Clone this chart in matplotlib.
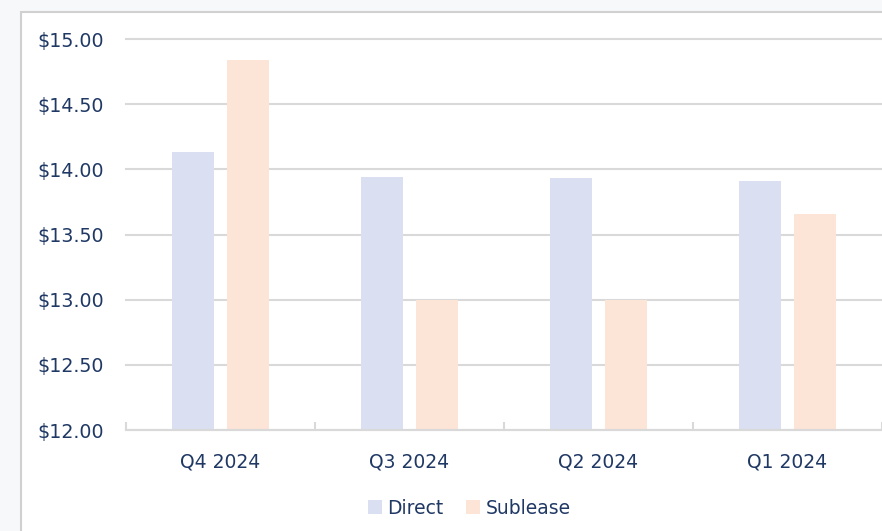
import matplotlib.pyplot as plt
import matplotlib.patches as mpatches
import numpy as np

quarters = ['Q4 2024', 'Q3 2024', 'Q2 2024', 'Q1 2024']
direct = [14.13, 13.94, 13.93, 13.91]
sublease = [14.84, 13.00, 13.00, 13.66]

navy = '#1f3864'
grid_c = '#d9d9d9'
c_direct = '#dae0f1'
c_sub = '#fce4d6'

fig = plt.figure(figsize=(8.82, 5.31), dpi=100)
fig.patch.set_facecolor('#f7f8fa')

# white panel with grey border, cut off at right and bottom
panel = mpatches.Rectangle((21 / 882, -0.05), 1.2, 1 - 12 / 531 + 0.05,
                           transform=fig.transFigure, facecolor='white',
                           edgecolor='#d0d0d0', linewidth=1.5, zorder=-10)
fig.patches.append(panel)

ax = fig.add_axes([126 / 882, 1 - 430 / 531, 1 - 126 / 882, (430 - 39) / 531])
ax.set_facecolor('none')
ax.set_zorder(5)

x = np.arange(len(quarters))
w = 0.222
off = 0.143
ax.bar(x - off, np.array(direct) - 12, w, bottom=12, color=c_direct, label='Direct', zorder=2)
ax.bar(x + off, np.array(sublease) - 12, w, bottom=12, color=c_sub, label='Sublease', zorder=2)

ax.set_xlim(-0.5, len(quarters) - 0.5)
ax.set_ylim(12, 15)
ax.set_yticks(np.arange(12, 15.01, 0.5))
ax.set_yticklabels(['${:.2f}'.format(v) for v in np.arange(12, 15.01, 0.5)])
ax.yaxis.grid(True, color=grid_c, linewidth=1.5, zorder=0)
ax.set_axisbelow(True)
for gl in ax.get_ygridlines():
    gl.set_clip_on(False)

for s in ['top', 'right', 'left']:
    ax.spines[s].set_visible(False)
ax.spines['bottom'].set_color(grid_c)
ax.spines['bottom'].set_linewidth(1.5)

ax.tick_params(axis='y', length=0, pad=16, labelsize=13.7, labelcolor=navy)
ax.set_xticks(x)
ax.set_xticklabels(quarters)
ax.tick_params(axis='x', length=0, pad=16, labelsize=13.5, labelcolor=navy)
ax.set_xticks(np.arange(-0.5, len(quarters), 1.0), minor=True)
ax.tick_params(axis='x', which='minor', direction='in', length=6, width=1.5, color=grid_c)

fig.legend(loc='center', bbox_to_anchor=(0.532, 0.043), ncol=2, frameon=False,
           fontsize=13.5, labelcolor=navy, handlelength=0.75, handleheight=0.75,
           handletextpad=0.3, columnspacing=1.2)

fig.savefig('out.png', dpi=100, facecolor=fig.get_facecolor())
